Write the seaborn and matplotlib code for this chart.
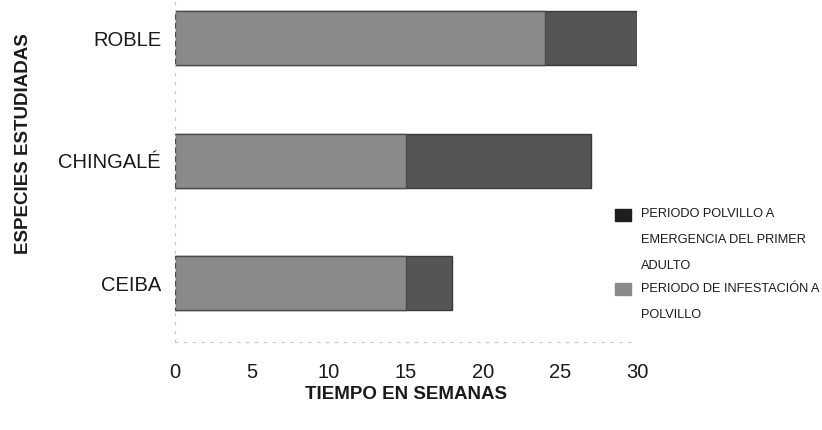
import pandas as pd
import matplotlib
matplotlib.use("Agg")
import matplotlib.pyplot as plt
from matplotlib.patches import Patch
import seaborn as sns

especies = ["ROBLE", "CHINGALÉ", "CEIBA"]
infestacion = [24, 15, 15]      # periodo de infestación a polvillo
emergencia = [6, 12, 3]         # periodo polvillo a emergencia del primer adulto
leyenda = ["PERIODO POLVILLO A\nEMERGENCIA DEL PRIMER\nADULTO",
           "PERIODO DE INFESTACIÓN A\nPOLVILLO"]

df = pd.DataFrame({"especie": especies, "infestacion": infestacion, "emergencia": emergencia})
df["total"] = df["infestacion"] + df["emergencia"]

sns.set_style("white")
plt.rcParams["font.family"] = ["Liberation Sans", "DejaVu Sans"]

fig = plt.figure(figsize=(8.22, 4.30), dpi=100)
ax = fig.add_axes([175 / 822, 1 - 342 / 430, 462 / 822, 342 / 430])

sns.barplot(data=df, x="total", y="especie", color="#555555", width=0.44,
            edgecolor="#3a3a3a", linewidth=1, saturation=1, ax=ax)
sns.barplot(data=df, x="infestacion", y="especie", color="#8a8a8a", width=0.44,
            edgecolor="#4a4a4a", linewidth=1, saturation=1, ax=ax)

ax.set_xlim(0, 30)
ax.set_ylim(2.48, -0.31)
ax.set_xticks([0, 5, 10, 15, 20, 25, 30])
ax.tick_params(axis="x", length=0, pad=15, labelsize=14.5, labelcolor="#1a1a1a")
ax.tick_params(axis="y", length=0, pad=10, labelsize=14.5, labelcolor="#1a1a1a")

for s in ["top", "right"]:
    ax.spines[s].set_visible(False)
for s in ["left", "bottom"]:
    ax.spines[s].set_color("#c8c8c8")
    ax.spines[s].set_linestyle((0, (2, 6)))
    ax.spines[s].set_linewidth(0.8)

ax.set_xlabel("TIEMPO EN SEMANAS", fontsize=13.5, fontweight="bold", color="#1a1a1a", labelpad=3)
ax.set_ylabel("ESPECIES ESTUDIADAS", fontsize=13.5, fontweight="bold", color="#1a1a1a")
ax.yaxis.set_label_coords(-0.31, 0.58)

handles = [Patch(facecolor="#1e1e1e", edgecolor="#1e1e1e"),
           Patch(facecolor="#8a8a8a", edgecolor="#8a8a8a")]
leg = fig.legend(handles, leyenda, loc="upper left", bbox_to_anchor=(603 / 822, 1 - 197 / 430),
                 frameon=False, fontsize=9.2, handlelength=1.3, handleheight=1.15,
                 handletextpad=0.75, labelspacing=0.8)
for t in leg.get_texts():
    t.set_linespacing(2.55)
    t.set_color("#1a1a1a")
# put each legend square next to the first line of its label
for col in leg._legend_handle_box.get_children():
    for row in col.get_children():
        row.align = "top"

fig.savefig("out.png", dpi=100)
